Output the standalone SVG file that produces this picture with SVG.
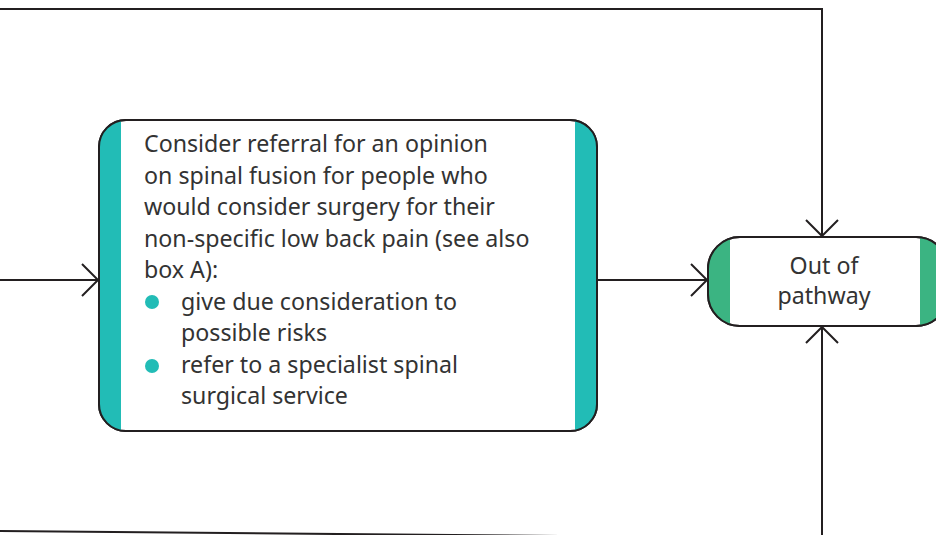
<svg xmlns="http://www.w3.org/2000/svg" width="936" height="535" viewBox="0 0 936 535">
<defs>
<style>
.edge{fill:none;stroke:#231f20;stroke-width:2}
.txt{font-family:"Noto Sans","Open Sans",sans-serif;font-size:23.2px;fill:#333}
.box{fill:#fff;stroke:#231f20;stroke-width:2}
</style>
<clipPath id="c1"><rect x="99" y="120" width="498" height="311" rx="27"/></clipPath>
<clipPath id="c2"><rect x="708" y="237" width="240" height="89" rx="32"/></clipPath>
</defs>
<g id="connectors">
<path class="edge" d="M0,9 H822 V236"/>
<path class="edge" d="M806,220 L822,236 L838,220"/>
<path class="edge" d="M0,280 H98"/>
<path class="edge" d="M82,264 L98,280 L82,296"/>
<path class="edge" d="M597,280 H707"/>
<path class="edge" d="M691,264 L707,280 L691,296"/>
<path class="edge" d="M822,535 V327"/>
<path class="edge" d="M806,343 L822,327 L838,343"/>
<path class="edge" d="M0,531 L560,536"/>
</g>
<g id="box-referral">
<rect class="box" x="99" y="120" width="498" height="311" rx="27"/>
<g clip-path="url(#c1)">
<rect x="99" y="120" width="22" height="311" fill="#22bcb6"/>
<rect x="575" y="120" width="22" height="311" fill="#22bcb6"/>
</g>
<rect x="99" y="120" width="498" height="311" rx="27" fill="none" stroke="#231f20" stroke-width="2"/>
<text class="txt" x="144" y="152">Consider referral for an opinion</text>
<text class="txt" x="144" y="184">on spinal fusion for people who</text>
<text class="txt" x="144" y="215">would consider surgery for their</text>
<text class="txt" x="144" y="247">non-specific low back pain (see also</text>
<text class="txt" x="144" y="278">box A):</text>
<circle cx="152" cy="302" r="7" fill="#22bcb6"/>
<text class="txt" x="181" y="310">give due consideration to</text>
<text class="txt" x="181" y="341">possible risks</text>
<circle cx="152" cy="366" r="7" fill="#22bcb6"/>
<text class="txt" x="181" y="373">refer to a specialist spinal</text>
<text class="txt" x="181" y="404">surgical service</text>
</g>
<g id="node-out">
<rect class="box" x="708" y="237" width="240" height="89" rx="32"/>
<g clip-path="url(#c2)">
<rect x="708" y="237" width="22" height="89" fill="#3bb482"/>
<rect x="920" y="237" width="30" height="89" fill="#3bb482"/>
</g>
<rect x="708" y="237" width="240" height="89" rx="32" fill="none" stroke="#231f20" stroke-width="2"/>
<text class="txt" x="824" y="274" text-anchor="middle">Out of</text>
<text class="txt" x="824" y="304" text-anchor="middle">pathway</text>
</g>
</svg>
